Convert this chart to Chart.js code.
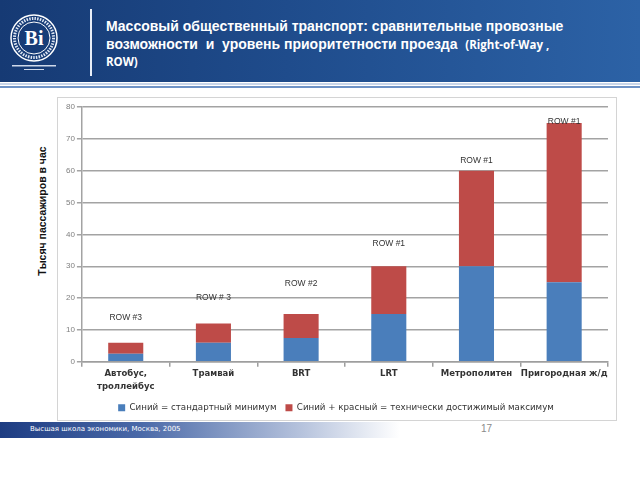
<!DOCTYPE html>
<html>
<head>
<meta charset="utf-8">
<script src="https://cdn.jsdelivr.net/npm/chart.js@4"></script>
<style>
  html, body { margin: 0; padding: 0; background: #fff; }
  body { width: 640px; height: 480px; position: relative; overflow: hidden; font-family: "Liberation Sans", sans-serif; }
  #header {
    position: absolute; left: 0; top: 0; width: 640px; height: 82px;
    background: linear-gradient(to right, #163a74 0%, #1f4c8c 45%, #2c62a6 100%);
  }
  #stripe1 { position: absolute; left: 0; top: 83px; width: 640px; height: 2px; background: #c9d6ea; }
  #stripe2 { position: absolute; left: 0; top: 86px; width: 640px; height: 2px; background: #6f93c6; }
  #divider { position: absolute; left: 90px; top: 9px; width: 2px; height: 67px; background: #e8eef8; }
  #logo { position: absolute; left: 8px; top: 12px; }
  #title {
    position: absolute; left: 106px; top: 18px; width: 520px; white-space: nowrap;
    color: #fff; font-weight: bold; font-size: 14px; line-height: 17.5px;
  }
  #title .small { font-family: "Open Sans", sans-serif; font-size: 11.5px; }
  #frame { position: absolute; left: 57px; top: 97px; width: 558px; height: 322px; border: 1px solid #d4d4d4; }
  #ytitle {
    position: absolute; left: 42px; top: 211px; transform: translate(-50%, -50%) rotate(-90deg);
    white-space: nowrap; color: #111; font-weight: bold; font-size: 10.5px;
  }
  #footer {
    position: absolute; left: 0; top: 422px; width: 400px; height: 16px;
    background: linear-gradient(to right, #1d3c82 0%, #4a69a8 35%, #b5c2dc 75%, rgba(255,255,255,0) 100%);
  }
  #footer span { position: absolute; left: 30px; top: 3px; color: #fff; font-size: 7px; font-family: "DejaVu Sans", sans-serif; }
  #pagenum { position: absolute; left: 481px; top: 423px; color: #8a8a8a; font-size: 10px; }
  #chart { position: absolute; left: 0; top: 0; }
</style>
</head>
<body>
<div id="header"></div>
<div id="stripe1"></div>
<div id="stripe2"></div>
<svg id="logo" width="52" height="62" viewBox="0 0 52 62">
  <circle cx="26" cy="26" r="23" fill="none" stroke="#fff" stroke-width="1.5"/>
  <circle cx="26" cy="26" r="16" fill="none" stroke="#fff" stroke-width="1"/>
  <circle cx="26" cy="26" r="19.5" fill="none" stroke="#dfe7f3" stroke-width="3" stroke-dasharray="1.5 1.2"/>
  <text x="26" y="33" text-anchor="middle" fill="#fff" font-family="Liberation Serif" font-size="20" font-weight="bold">Ві</text>
  <rect x="4" y="53" width="44" height="1.5" fill="#cfd9ea"/>
  <rect x="16" y="57" width="20" height="1" fill="#cfd9ea"/>
</svg>
<div id="divider"></div>
<div id="title">Массовый общественный транспорт: сравнительные провозные<br>возможности&nbsp; и&nbsp; уровень приоритетности проезда&nbsp; <span class="small">(Right-of-Way ,</span><br><span class="small">ROW)</span></div>
<div id="frame"></div>
<div id="ytitle">Тысяч пассажиров в час</div>
<div id="footer"><span>Высшая школа экономики, Москва, 2005</span></div>
<div id="pagenum">17</div>
<canvas id="chart" width="640" height="480"></canvas>
<script>
  const categories = [["Автобус,", "троллейбус"], "Трамвай", "BRT", "LRT", "Метрополитен", "Пригородная ж/д"];
  const blueValues = [2.5, 6, 7.5, 15, 30, 25];
  const redValues = [3.5, 6, 7.5, 15, 30, 50];
  const seriesNames = ["Синий = стандартный минимум", "Синий + красный = технически достижимый максимум"];
  const rowLabels = ["ROW #3", "ROW # 3", "ROW #2", "ROW #1", "ROW #1", "ROW #1"];
  const rowLabelLevels = [14, 20, 24.5, 37, 63, 75.5];

  const rowLabelPlugin = {
    id: "rowLabels",
    afterDatasetsDraw(chart) {
      const ctx = chart.ctx;
      const meta = chart.getDatasetMeta(1);
      const y = chart.scales.y;
      ctx.save();
      ctx.font = "8.5px 'Liberation Sans', sans-serif";
      ctx.fillStyle = "#333";
      ctx.textAlign = "center";
      ctx.textBaseline = "middle";
      rowLabels.forEach((txt, i) => {
        ctx.fillText(txt, meta.data[i].x, y.getPixelForValue(rowLabelLevels[i]));
      });
      ctx.restore();
    },
  };

  new Chart(document.getElementById("chart"), {
    type: "bar",
    data: {
      labels: categories,
      datasets: [
        { label: seriesNames[0], data: blueValues, backgroundColor: "#4a7ebb" },
        { label: seriesNames[1], data: redValues, backgroundColor: "#be4b48" },
      ],
    },
    options: {
      responsive: false,
      animation: false,
      layout: { padding: { left: 64, right: 32, top: 107, bottom: 58 } },
      datasets: { bar: { categoryPercentage: 1, barPercentage: 0.4 } },
      scales: {
        x: {
          stacked: true,
          grid: { drawOnChartArea: false, tickLength: 5, color: "#9e9e9e", lineWidth: 1.5 },
          border: { color: "#9e9e9e", width: 1.5 },
          ticks: {
            padding: 1,
            autoSkip: false,
            maxRotation: 0,
            color: "#333",
            font: { family: "DejaVu Sans", size: 8.5, weight: "bold", lineHeight: 1.5 },
          },
        },
        y: {
          stacked: true,
          min: 0,
          max: 80,
          ticks: { stepSize: 10, padding: 2, color: "#7f7f7f", font: { family: "Liberation Sans", size: 8 } },
          grid: { color: "#a3a3a3", lineWidth: 1.5, tickLength: 5 },
          border: { color: "#a3a3a3", width: 1.5 },
        },
      },
      plugins: {
        legend: {
          position: "bottom",
          labels: {
            boxWidth: 7,
            boxHeight: 7,
            padding: 9,
            color: "#333",
            font: { family: "DejaVu Sans", size: 8.7 },
          },
        },
        tooltip: { enabled: false },
      },
    },
    plugins: [rowLabelPlugin],
  });
</script>
</body>
</html>
